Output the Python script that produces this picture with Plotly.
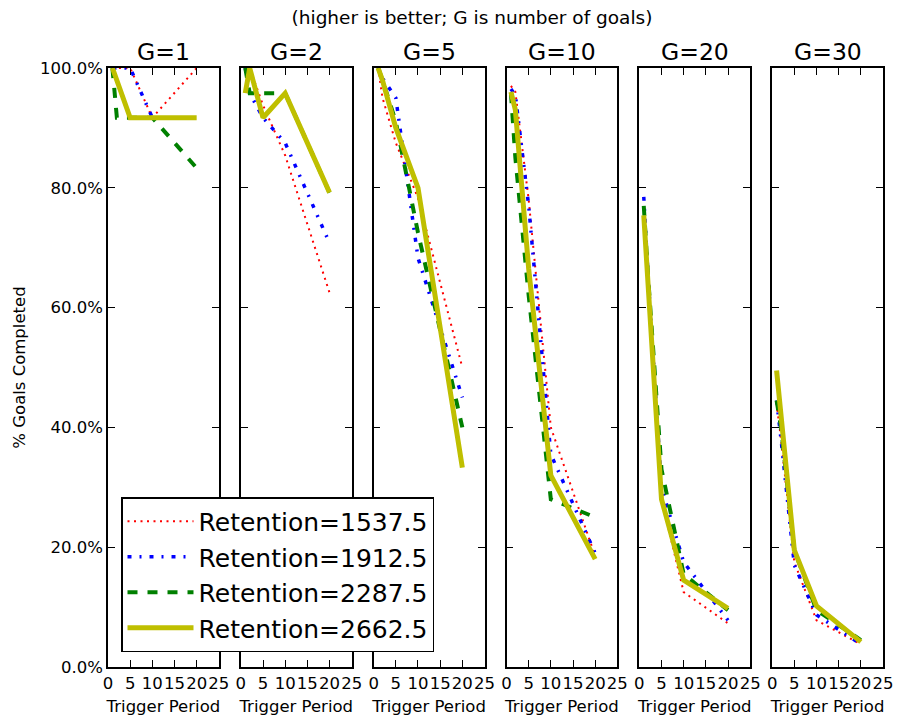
import plotly.graph_objects as go
from plotly.subplots import make_subplots

# ---------------- data ----------------
trigger_period = [1, 2, 5, 10, 20]
goal_titles = ["G=1", "G=2", "G=5", "G=10", "G=20", "G=30"]
series_names = ["Retention=1537.5", "Retention=1912.5", "Retention=2287.5", "Retention=2662.5"]

# % goals completed, one list per G panel (G=1,2,5,10,20,30)
retention_1537 = [
    [100, 100, 100, 91.7, 100],
    [100, 100, 93.8, 85.4, 62.5],
    [100, 95, 87.5, 78.3, 50],
    [97, 96, 78, 40, 18.5],
    [75, 63, 28, 12.5, 7.3],
    [44, 38, 17.5, 7.8, 3.8],
]
retention_1912 = [
    [100, 100, 100, 91.7, 91.7],
    [100, 95.8, 91.7, 87.5, 70.8],
    [100, 98.3, 95, 68.3, 45],
    [96.5, 95.5, 77, 35.5, 19],
    [78.5, 65, 30, 17.5, 7.8],
    [44.5, 38, 17, 8.7, 3.8],
]
retention_2287 = [
    [100, 91.7, 91.7, 91.7, 83.3],
    [100, 95.8, 95.8, 95.8, 79.2],
    [100, 98, 91, 72.5, 40],
    [95.8, 85, 62, 28, 25],
    [77, 65, 33, 15.5, 9.5],
    [44.5, 40, 19.5, 9.5, 4.5],
]
retention_2662 = [
    [100, 97.9, 91.7, 91.7, 91.7],
    [95.8, 100, 91.7, 95.8, 79.2],
    [100, 97.9, 90, 80, 33.3],
    [96, 93, 66.5, 32, 18],
    [75.4, 63.6, 28, 14.5, 9.8],
    [49.5, 41.9, 19.5, 10.2, 4.2],
]
y_tick_values = [0, 20, 40, 60, 80, 100]
y_tick_labels = ["0.0%", "20.0%", "40.0%", "60.0%", "80.0%", "100.0%"]
x_tick_values = [0, 5, 10, 15, 20, 25]

# ---------------- styles ----------------
all_series = [retention_1537, retention_1912, retention_2287, retention_2662]
styles = [
    dict(color="#ff0000", width=2, dash="2px,4.5px"),
    dict(color="#0000ff", width=3.5, dash="4px,8px,2px,8px"),
    dict(color="#008000", width=4, dash="10px,10px"),
    dict(color="#bfbf00", width=5, dash="solid"),
]

FONT = "DejaVu Sans"
fig = make_subplots(rows=1, cols=6, shared_yaxes=True,
                    horizontal_spacing=22 / 775, subplot_titles=goal_titles)

for s, (vals, name, st) in enumerate(zip(all_series, series_names, styles)):
    for p in range(6):
        fig.add_trace(go.Scatter(
            x=trigger_period, y=vals[p], mode="lines", name=name,
            legendgroup=name, showlegend=(p == 0),
            line=st,
        ), row=1, col=p + 1)

for p in range(6):
    fig.update_xaxes(range=[0, 25], tickvals=x_tick_values, tickangle=0,
                     ticks="inside", ticklen=7, tickwidth=1, tickcolor="black",
                     showline=True, linecolor="black", linewidth=1.5, mirror="ticks",
                     showgrid=False, zeroline=False, automargin=False,
                     tickfont=dict(family=FONT, size=16.5, color="black"),
                     title=dict(text="Trigger Period", standoff=9,
                                font=dict(family=FONT, size=16.5, color="black")),
                     row=1, col=p + 1)
    fig.update_yaxes(range=[0, 100], tickvals=y_tick_values, ticktext=y_tick_labels,
                     ticks="inside", ticklen=7, tickwidth=1, tickcolor="black",
                     showline=True, linecolor="black", linewidth=1.5, mirror="ticks",
                     showgrid=False, zeroline=False, automargin=False,
                     tickfont=dict(family=FONT, size=16.5, color="black"),
                     row=1, col=p + 1)

fig.update_yaxes(title=dict(text="% Goals Completed", standoff=10,
                            font=dict(family=FONT, size=16.5, color="black")),
                 row=1, col=1)

for ann in fig.layout.annotations:
    ann.font = dict(family=FONT, size=23.5, color="black")
    ann.yshift = 0

fig.update_layout(
    width=898, height=721,
    margin=dict(l=108, r=15, t=68, b=54, autoexpand=False),
    paper_bgcolor="white", plot_bgcolor="white",
    font=dict(family=FONT, color="black"),
    title=dict(text="(higher is better; G is number of goals)",
               x=(472 - 108) / 775, xref="paper", xanchor="center",
               y=1 - 18 / 721, yref="container", yanchor="middle",
               font=dict(family=FONT, size=18.5, color="black")),
    showlegend=True,
    legend=dict(x=13 / 775, y=15 / 599, xanchor="left", yanchor="bottom",
                bgcolor="white", bordercolor="black", borderwidth=1.5,
                font=dict(family=FONT, size=25, color="black"),
                itemwidth=66, traceorder="normal"),
)

fig.write_html("out.html")
